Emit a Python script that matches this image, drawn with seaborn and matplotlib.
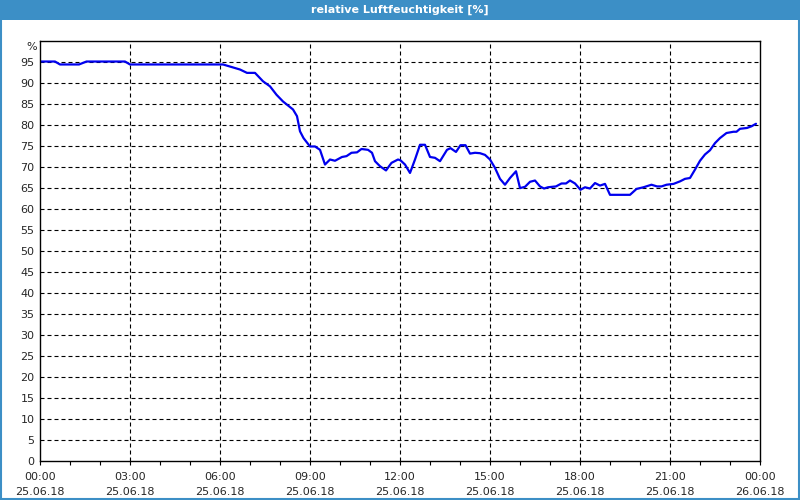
import matplotlib
matplotlib.use("Agg")
import matplotlib.pyplot as plt
from matplotlib.patches import Rectangle
from matplotlib.ticker import MultipleLocator
import seaborn as sns
import pandas as pd

times = ["00:00", "00:30", "00:40", "01:18", "01:33", "02:50", "03:00", "06:06",
         "06:40", "06:54", "07:10", "07:26", "07:40", "07:53", "08:06", "08:26",
         "08:34", "08:40", "08:47", "09:00", "09:10", "09:20", "09:30", "09:40",
         "09:50", "10:04", "10:13", "10:23", "10:34", "10:43", "10:56", "11:04",
         "11:10", "11:20", "11:32", "11:43", "11:56", "12:01", "12:10", "12:20",
         "12:30", "12:40", "12:50", "13:00", "13:10", "13:20", "13:34", "13:41",
         "13:52", "14:01", "14:11", "14:20", "14:30", "14:40", "14:50", "15:00",
         "15:10", "15:20", "15:30", "15:40", "15:52", "16:00", "16:10", "16:20",
         "16:30", "16:40", "16:48", "16:56", "17:12", "17:23", "17:32", "17:40",
         "17:50", "18:01", "18:10", "18:20", "18:30", "18:40", "18:50", "19:00",
         "19:40", "19:53", "20:07", "20:23", "20:34", "20:43", "20:53", "21:07",
         "21:20", "21:30", "21:40", "21:50", "22:00", "22:10", "22:20", "22:30",
         "22:40", "22:53", "23:07", "23:13", "23:20", "23:34", "23:43", "23:52"]
humidity = [95, 95, 94.3, 94.3, 95, 95, 94.3, 94.3,
            93.1, 92.3, 92.3, 90.3, 89.1, 87.1, 85.5, 83.6,
            82, 78.4, 76.8, 74.8, 74.8, 74, 70.5, 71.7,
            71.4, 72.3, 72.5, 73.3, 73.4, 74.2, 74, 73.3,
            71.3, 70.1, 69.1, 70.9, 71.7, 71.5, 70.5, 68.5,
            71.7, 75.2, 75.2, 72.3, 72.1, 71.3, 74, 74.4,
            73.5, 75.1, 75.1, 73.1, 73.3, 73.2, 72.8, 71.7,
            69.7, 67.1, 65.7, 67.3, 68.9, 64.9, 65.2, 66.4,
            66.7, 65.3, 64.8, 65.1, 65.3, 66.0, 66.0, 66.7,
            66.0, 64.5, 65.1, 64.8, 66.1, 65.5, 65.9, 63.3,
            63.3, 64.7, 65.1, 65.7, 65.3, 65.3, 65.7, 65.9,
            66.5, 67.1, 67.3, 69.3, 71.4, 72.9, 73.9, 75.6,
            76.8, 78.0, 78.3, 78.3, 79.0, 79.2, 79.6, 80.2]
xtick_labels = ["00:00\n25.06.18", "03:00\n25.06.18", "06:00\n25.06.18",
                "09:00\n25.06.18", "12:00\n25.06.18", "15:00\n25.06.18",
                "18:00\n25.06.18", "21:00\n25.06.18", "00:00\n26.06.18"]
title = "relative Luftfeuchtigkeit [%]"

def to_hours(t):
    h, m = t.split(":")
    return int(h) + int(m) / 60.0

df = pd.DataFrame({"hour": [to_hours(t) for t in times], "rh": humidity})

sns.set_theme(style="white")
plt.rcParams["font.family"] = ["DejaVu Sans"]

fig = plt.figure(figsize=(8, 5), dpi=100, facecolor="white")
ax = fig.add_axes([40 / 800, 39 / 500, 720 / 800, 420.5 / 500])
ax.set_facecolor("white")

sns.lineplot(data=df, x="hour", y="rh", ax=ax, color="#0000ee", linewidth=1.6)

ax.set_xlim(0, 24)
ax.set_ylim(0, 100)
ax.set_xticks(range(0, 25, 3))
ax.set_xticklabels(xtick_labels, fontsize=8, linespacing=1.55)
ax.xaxis.set_minor_locator(MultipleLocator(1))
ax.set_yticks(range(0, 100, 5))
ax.set_yticklabels([str(v) for v in range(0, 100, 5)], fontsize=8)
ax.tick_params(axis="x", which="major", direction="out", length=3, width=0.8,
               color="black", pad=5, bottom=True)
ax.tick_params(axis="x", which="minor", direction="out", length=3, width=0.8,
               color="black", bottom=True)
ax.tick_params(axis="y", length=0, pad=4)
ax.set_xlabel("")
ax.set_ylabel("")

for v in range(5, 100, 5):
    ax.axhline(v, color="black", linewidth=0.8, linestyle=(0, (3.6, 2.7)), zorder=0)
for h in range(3, 24, 3):
    ax.axvline(h, color="black", linewidth=0.8, linestyle=(0, (3.6, 2.7)), zorder=0)

for s in ax.spines.values():
    s.set_visible(True)
    s.set_color("black")
    s.set_linewidth(1.0)

ax.text(-0.004, 0.985, "%", transform=ax.transAxes, ha="right", va="center", fontsize=8)

# title bar and frame
fig.patches.append(Rectangle((0, 1 - 20 / 500), 1, 20 / 500, transform=fig.transFigure,
                             facecolor="#3c8fc6", edgecolor="none", zorder=-1))
fig.patches.append(Rectangle((0.001, 0.002), 0.998, 0.996, transform=fig.transFigure,
                             facecolor="none", edgecolor="#3c8fc6", linewidth=1.5, zorder=5))
fig.text(0.5, 1 - 10 / 500, title, ha="center", va="center", color="white",
         fontsize=8, fontweight="bold")

fig.savefig("out.png", dpi=100, facecolor="white")
